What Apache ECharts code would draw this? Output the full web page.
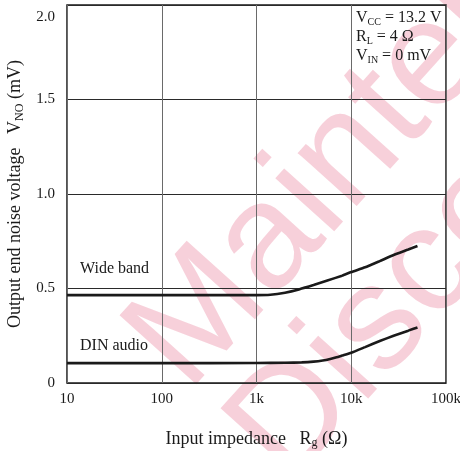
<!DOCTYPE html>
<html>
<head>
<meta charset="utf-8">
<script src="https://cdn.jsdelivr.net/npm/echarts@6/dist/echarts.min.js"></script>
<style>
  html, body { margin: 0; padding: 0; background: #fff; }
  #chart { width: 460px; height: 451px; }
</style>
</head>
<body>
<div id="chart"></div>
<script>
// input impedance Rg (ohm) / output noise voltage (mV)
var wideRg = [10, 100, 1000, 1400, 2000, 2800, 4000, 5600, 8000, 10000, 14000, 20000, 28000, 40000, 50000];
var wideBand = [0.465, 0.465, 0.465, 0.467, 0.478, 0.495, 0.518, 0.542, 0.568, 0.587, 0.612, 0.645, 0.677, 0.706, 0.725];
var dinRg = [10, 100, 1000, 2000, 3000, 4000, 5000, 6000, 7000, 8000, 10000, 14000, 20000, 28000, 40000, 50000];
var dinAudio = [0.105, 0.105, 0.106, 0.107, 0.109, 0.113, 0.119, 0.127, 0.136, 0.145, 0.16, 0.19, 0.222, 0.25, 0.277, 0.294];
var xTickLabels = { 10: '10', 100: '100', 1000: '1k', 10000: '10k', 100000: '100k' };
var yTickLabels = ['0', '0.5', '1.0', '1.5', '2.0'];

var serif = '"Liberation Serif", "DejaVu Serif", serif';
var ink = '#1a1a1a';

function pairs(xs, ys) {
  return xs.map(function(x, i) { return [x, ys[i]]; });
}

var chart = echarts.init(document.getElementById('chart'));

// watermark, drawn behind the grid
var markColor = 'rgba(240, 170, 188, 0.55)';
var markFont = '150px "Liberation Sans", sans-serif';
var rot = 48 * Math.PI / 180;

var option = {
  animation: false,
  grid: {
    left: 67, right: 14, top: 5, bottom: 68,
    outerBoundsMode: 'none',
    show: true,
    borderColor: ink,
    borderWidth: 1.5
  },
  xAxis: {
    type: 'log',
    logBase: 10,
    min: 10,
    max: 100000,
    name: '{a|Input impedance   R}{s|g}{a| (Ω)}',
    nameLocation: 'middle',
    nameGap: 46,
    nameTextStyle: {
      rich: {
        a: { fontFamily: serif, fontSize: 18, color: ink, lineHeight: 20 },
        s: { fontFamily: serif, fontSize: 12, color: ink, lineHeight: 13, verticalAlign: 'bottom', padding: [7, 0, 0, 0] }
      }
    },
    axisLine: { show: false },
    axisTick: { show: false },
    axisLabel: {
      margin: 9,
      fontFamily: serif,
      fontSize: 15,
      color: ink,
      formatter: function(v) { return xTickLabels[Math.round(v)] || ''; }
    },
    splitLine: { show: true, lineStyle: { color: '#6a6a6a', width: 1 } },
    minorSplitLine: { show: false }
  },
  yAxis: {
    type: 'value',
    min: 0,
    max: 2,
    interval: 0.5,
    name: '{a|Output end noise voltage   V}{s|NO}{a| (mV)}',
    nameLocation: 'middle',
    nameGap: 40,
    nameTextStyle: {
      rich: {
        a: { fontFamily: serif, fontSize: 18, color: ink, lineHeight: 20 },
        s: { fontFamily: serif, fontSize: 12, color: ink, lineHeight: 13, verticalAlign: 'bottom', padding: [7, 0, 0, 0] }
      }
    },
    axisLine: { show: false },
    axisTick: { show: false },
    axisLabel: {
      margin: 12,
      fontFamily: serif,
      fontSize: 15,
      color: ink,
      formatter: function(v) {
        var t = yTickLabels[Math.round(v / 0.5)];
        return v >= 2 ? '{t|' + t + '}' : t;
      },
      rich: {
        t: { fontFamily: serif, fontSize: 15, color: ink, padding: [24, 0, 0, 0] }
      }
    },
    splitLine: { show: true, lineStyle: { color: '#2a2a2a', width: 1 } }
  },
  graphic: [
    {
      type: 'text', z: -10, x: 213, y: 416, rotation: rot,
      style: { text: 'Maintenance', fill: markColor, font: markFont, verticalAlign: 'bottom' }
    },
    {
      type: 'text', z: -10, x: 314, y: 509, rotation: rot,
      style: { text: 'Discontinued', fill: markColor, font: markFont, verticalAlign: 'bottom' }
    },
    {
      type: 'text', left: 80, top: 261,
      style: { text: 'Wide band', font: '16px ' + serif, fill: ink }
    },
    {
      type: 'text', left: 80, top: 338,
      style: { text: 'DIN audio', font: '16px ' + serif, fill: ink }
    },
    {
      type: 'text', left: 356, top: 10,
      style: {
        text: '{a|V}{s|CC}{a| = 13.2 V}\n{a|R}{s|L}{a| = 4 Ω}\n{a|V}{s|IN}{a| = 0 mV}',
        rich: {
          a: { fontFamily: serif, fontSize: 16, fill: ink, lineHeight: 19 },
          s: { fontFamily: serif, fontSize: 10, fill: ink, lineHeight: 12, verticalAlign: 'bottom', padding: [6, 0, 0, 0] }
        }
      }
    }
  ],
  series: [
    {
      name: 'Wide band',
      type: 'line',
      data: pairs(wideRg, wideBand),
      smooth: 0.15,
      showSymbol: false,
      lineStyle: { color: ink, width: 2.6 },
      z: 5
    },
    {
      name: 'DIN audio',
      type: 'line',
      data: pairs(dinRg, dinAudio),
      smooth: 0.15,
      showSymbol: false,
      lineStyle: { color: ink, width: 2.6 },
      z: 5
    }
  ]
};

chart.setOption(option);
</script>
</body>
</html>
